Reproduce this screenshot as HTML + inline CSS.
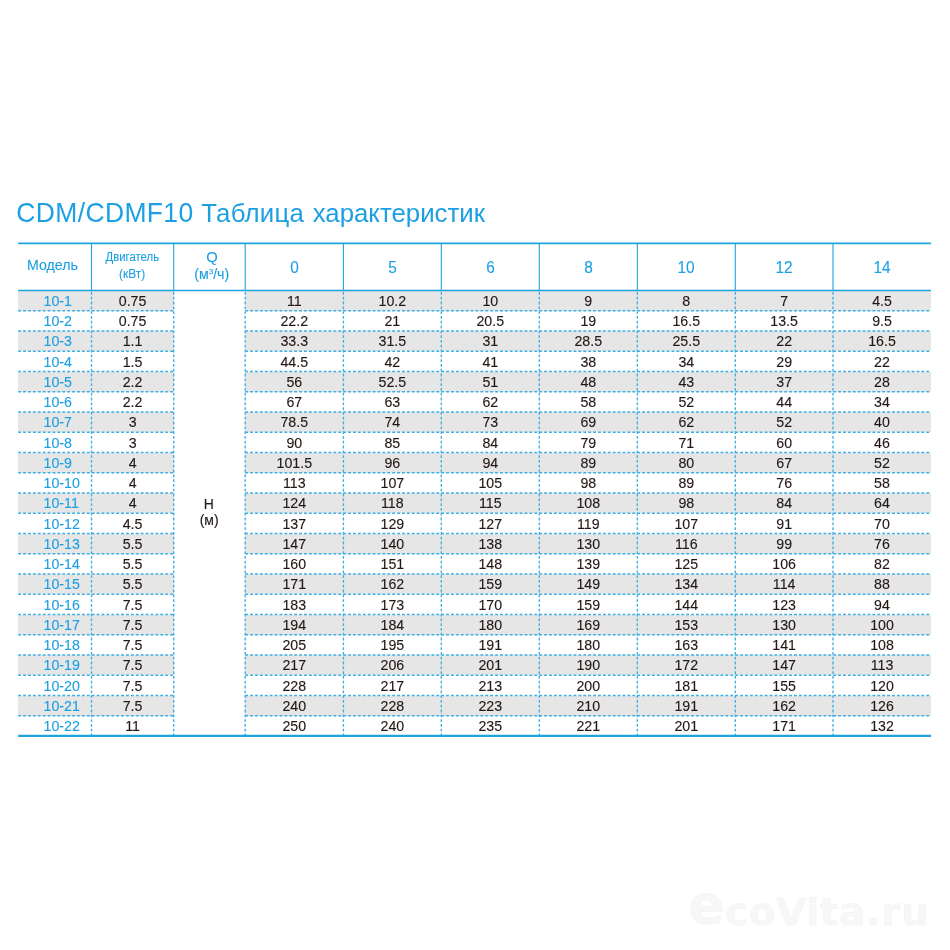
<!DOCTYPE html>
<html><head><meta charset="utf-8"><title>CDM/CDMF10</title>
<style>
html,body{margin:0;padding:0;background:#fff;}
body{width:950px;height:950px;position:relative;overflow:hidden;font-family:"Liberation Sans",sans-serif;}
.t,.m,.h{-webkit-text-stroke:0.12px currentColor;}
.t{position:absolute;text-align:center;white-space:nowrap;font-size:14.2px;line-height:20px;height:20px;color:#231815;}
.m{position:absolute;text-align:left;white-space:nowrap;font-size:14.2px;line-height:20px;height:20px;color:#1c9fe3;left:43.6px;}
.g{position:absolute;background:#e6e6e6;}
.h{position:absolute;text-align:center;color:#1c9fe3;white-space:nowrap;}
.h span{display:inline-block;}
#title{position:absolute;left:16.3px;top:195.6px;font-size:25.8px;line-height:34px;color:#1c9fe3;letter-spacing:0.1px;white-space:nowrap;}
#title b{font-weight:normal;font-size:26.5px;letter-spacing:0.35px;display:inline-block;transform:scaleY(1.045);transform-origin:0 79%;white-space:pre;}
#wm{position:absolute;left:688.3px;top:881.8px;font-family:"DejaVu Sans",sans-serif;font-weight:bold;font-size:39px;line-height:50px;color:#f7f7f7;-webkit-text-stroke:0.5px #f3f3f3;white-space:nowrap;letter-spacing:0.5px;}
#wm span{font-size:53.5px;position:relative;top:-1.5px;}
#wm i{font-style:normal;display:inline-block;transform:scaleY(0.95);transform-origin:0 77%;}
svg{position:absolute;left:0;top:0;}
</style></head><body>
<div id="L" style="position:absolute;left:0;top:0;width:950px;height:950px;will-change:transform">
<div id="title"><b>CDM/CDMF10 </b><span style="letter-spacing:0.25px">Таблица</span><span style="letter-spacing:0;word-spacing:1.4px"> характеристик</span></div>

<div class="g" style="left:18.2px;top:290.50px;width:155.5px;height:20.25px"></div>
<div class="g" style="left:245.2px;top:290.50px;width:685.8px;height:20.25px"></div>
<div class="g" style="left:18.2px;top:331.00px;width:155.5px;height:20.25px"></div>
<div class="g" style="left:245.2px;top:331.00px;width:685.8px;height:20.25px"></div>
<div class="g" style="left:18.2px;top:371.50px;width:155.5px;height:20.25px"></div>
<div class="g" style="left:245.2px;top:371.50px;width:685.8px;height:20.25px"></div>
<div class="g" style="left:18.2px;top:412.00px;width:155.5px;height:20.25px"></div>
<div class="g" style="left:245.2px;top:412.00px;width:685.8px;height:20.25px"></div>
<div class="g" style="left:18.2px;top:452.50px;width:155.5px;height:20.25px"></div>
<div class="g" style="left:245.2px;top:452.50px;width:685.8px;height:20.25px"></div>
<div class="g" style="left:18.2px;top:493.00px;width:155.5px;height:20.25px"></div>
<div class="g" style="left:245.2px;top:493.00px;width:685.8px;height:20.25px"></div>
<div class="g" style="left:18.2px;top:533.50px;width:155.5px;height:20.25px"></div>
<div class="g" style="left:245.2px;top:533.50px;width:685.8px;height:20.25px"></div>
<div class="g" style="left:18.2px;top:574.00px;width:155.5px;height:20.25px"></div>
<div class="g" style="left:245.2px;top:574.00px;width:685.8px;height:20.25px"></div>
<div class="g" style="left:18.2px;top:614.50px;width:155.5px;height:20.25px"></div>
<div class="g" style="left:245.2px;top:614.50px;width:685.8px;height:20.25px"></div>
<div class="g" style="left:18.2px;top:655.00px;width:155.5px;height:20.25px"></div>
<div class="g" style="left:245.2px;top:655.00px;width:685.8px;height:20.25px"></div>
<div class="g" style="left:18.2px;top:695.50px;width:155.5px;height:20.25px"></div>
<div class="g" style="left:245.2px;top:695.50px;width:685.8px;height:20.25px"></div>
<svg width="950" height="950" viewBox="0 0 950 950">
<g stroke="#3dafe3" stroke-width="1.35" fill="none">
<path stroke-dasharray="2.9 2" d="M18.2 310.75H173.7M245.2 310.75H931.0"/>
<path stroke-dasharray="2.9 2" d="M18.2 331.00H173.7M245.2 331.00H931.0"/>
<path stroke-dasharray="2.9 2" d="M18.2 351.25H173.7M245.2 351.25H931.0"/>
<path stroke-dasharray="2.9 2" d="M18.2 371.50H173.7M245.2 371.50H931.0"/>
<path stroke-dasharray="2.9 2" d="M18.2 391.75H173.7M245.2 391.75H931.0"/>
<path stroke-dasharray="2.9 2" d="M18.2 412.00H173.7M245.2 412.00H931.0"/>
<path stroke-dasharray="2.9 2" d="M18.2 432.25H173.7M245.2 432.25H931.0"/>
<path stroke-dasharray="2.9 2" d="M18.2 452.50H173.7M245.2 452.50H931.0"/>
<path stroke-dasharray="2.9 2" d="M18.2 472.75H173.7M245.2 472.75H931.0"/>
<path stroke-dasharray="2.9 2" d="M18.2 493.00H173.7M245.2 493.00H931.0"/>
<path stroke-dasharray="2.9 2" d="M18.2 513.25H173.7M245.2 513.25H931.0"/>
<path stroke-dasharray="2.9 2" d="M18.2 533.50H173.7M245.2 533.50H931.0"/>
<path stroke-dasharray="2.9 2" d="M18.2 553.75H173.7M245.2 553.75H931.0"/>
<path stroke-dasharray="2.9 2" d="M18.2 574.00H173.7M245.2 574.00H931.0"/>
<path stroke-dasharray="2.9 2" d="M18.2 594.25H173.7M245.2 594.25H931.0"/>
<path stroke-dasharray="2.9 2" d="M18.2 614.50H173.7M245.2 614.50H931.0"/>
<path stroke-dasharray="2.9 2" d="M18.2 634.75H173.7M245.2 634.75H931.0"/>
<path stroke-dasharray="2.9 2" d="M18.2 655.00H173.7M245.2 655.00H931.0"/>
<path stroke-dasharray="2.9 2" d="M18.2 675.25H173.7M245.2 675.25H931.0"/>
<path stroke-dasharray="2.9 2" d="M18.2 695.50H173.7M245.2 695.50H931.0"/>
<path stroke-dasharray="2.9 2" d="M18.2 715.75H173.7M245.2 715.75H931.0"/>
<path stroke-dasharray="2.8 2" d="M91.5 292.0V734.9"/>
<path stroke-dasharray="2.8 2" d="M173.7 292.0V734.9"/>
<path stroke-dasharray="2.8 2" d="M245.2 292.0V734.9"/>
<path stroke-dasharray="2.8 2" d="M343.4 292.0V734.9"/>
<path stroke-dasharray="2.8 2" d="M441.3 292.0V734.9"/>
<path stroke-dasharray="2.8 2" d="M539.3 292.0V734.9"/>
<path stroke-dasharray="2.8 2" d="M637.3 292.0V734.9"/>
<path stroke-dasharray="2.8 2" d="M735.3 292.0V734.9"/>
<path stroke-dasharray="2.8 2" d="M833.0 292.0V734.9"/>
</g>
<g stroke="#1fa3dd" fill="none">
<path stroke-width="1.1" d="M91.5 243.4V290.5"/>
<path stroke-width="1.1" d="M173.7 243.4V290.5"/>
<path stroke-width="1.1" d="M245.2 243.4V290.5"/>
<path stroke-width="1.1" d="M343.4 243.4V290.5"/>
<path stroke-width="1.1" d="M441.3 243.4V290.5"/>
<path stroke-width="1.1" d="M539.3 243.4V290.5"/>
<path stroke-width="1.1" d="M637.3 243.4V290.5"/>
<path stroke-width="1.1" d="M735.3 243.4V290.5"/>
<path stroke-width="1.1" d="M833.0 243.4V290.5"/>
<path stroke-width="1.6" d="M18.2 243.4H931.0"/>
<path stroke-width="1.3" d="M18.2 290.5H931.0"/>
<path stroke-width="2.2" d="M18.2 735.9H931.0"/>
</g></svg>
<div class="h" style="left:-7.6px;width:120px;top:257.45px;font-size:14.2px;line-height:17.2px;color:#1c9fe3">Модель</div>
<div class="h" style="left:72.3px;width:120px;top:248.6px;font-size:13.7px;line-height:16.7px;color:#1c9fe3"><span style="transform:scaleX(0.83)">Двигатель</span></div>
<div class="h" style="left:72.2px;width:120px;top:265.8px;font-size:13.7px;line-height:16.7px;color:#1c9fe3"><span style="transform:scaleX(0.87)">(кВт)</span></div>
<div class="h" style="left:151.9px;width:120px;top:248.8px;font-size:14.8px;line-height:17.8px;color:#1c9fe3">Q</div>
<div class="h" style="left:151.7px;width:120px;top:265.9px;font-size:14.2px;line-height:17.2px;color:#1c9fe3">(м<span style="font-size:8px;position:relative;top:-5px">3</span>/ч)</div>
<div class="h" style="left:234.3px;width:120px;top:257.7px;font-size:16.4px;line-height:19.4px;color:#1c9fe3"><span style="transform:scaleX(0.94)">0</span></div>
<div class="h" style="left:332.4px;width:120px;top:257.7px;font-size:16.4px;line-height:19.4px;color:#1c9fe3"><span style="transform:scaleX(0.94)">5</span></div>
<div class="h" style="left:430.3px;width:120px;top:257.7px;font-size:16.4px;line-height:19.4px;color:#1c9fe3"><span style="transform:scaleX(0.94)">6</span></div>
<div class="h" style="left:528.3px;width:120px;top:257.7px;font-size:16.4px;line-height:19.4px;color:#1c9fe3"><span style="transform:scaleX(0.94)">8</span></div>
<div class="h" style="left:626.3px;width:120px;top:257.7px;font-size:16.4px;line-height:19.4px;color:#1c9fe3"><span style="transform:scaleX(0.94)">10</span></div>
<div class="h" style="left:724.1px;width:120px;top:257.7px;font-size:16.4px;line-height:19.4px;color:#1c9fe3"><span style="transform:scaleX(0.94)">12</span></div>
<div class="h" style="left:822.0px;width:120px;top:257.7px;font-size:16.4px;line-height:19.4px;color:#1c9fe3"><span style="transform:scaleX(0.94)">14</span></div>
<div class="h" style="left:148.8px;width:120px;top:496px;font-size:14px;line-height:17px;color:#231815">H</div>
<div class="h" style="left:149.2px;width:120px;top:512.4px;font-size:14px;line-height:17px;color:#231815">(м)</div>
<div class="m" style="top:290.93px">10-1</div>
<div class="t" style="left:91.5px;width:82.2px;top:290.93px">0.75</div>
<div class="t" style="left:245.2px;width:98.2px;top:290.93px">11</div>
<div class="t" style="left:343.4px;width:97.9px;top:290.93px">10.2</div>
<div class="t" style="left:441.3px;width:98.0px;top:290.93px">10</div>
<div class="t" style="left:539.3px;width:98.0px;top:290.93px">9</div>
<div class="t" style="left:637.3px;width:98.0px;top:290.93px">8</div>
<div class="t" style="left:735.3px;width:97.7px;top:290.93px">7</div>
<div class="t" style="left:833.0px;width:98.0px;top:290.93px">4.5</div>
<div class="m" style="top:311.18px">10-2</div>
<div class="t" style="left:91.5px;width:82.2px;top:311.18px">0.75</div>
<div class="t" style="left:245.2px;width:98.2px;top:311.18px">22.2</div>
<div class="t" style="left:343.4px;width:97.9px;top:311.18px">21</div>
<div class="t" style="left:441.3px;width:98.0px;top:311.18px">20.5</div>
<div class="t" style="left:539.3px;width:98.0px;top:311.18px">19</div>
<div class="t" style="left:637.3px;width:98.0px;top:311.18px">16.5</div>
<div class="t" style="left:735.3px;width:97.7px;top:311.18px">13.5</div>
<div class="t" style="left:833.0px;width:98.0px;top:311.18px">9.5</div>
<div class="m" style="top:331.43px">10-3</div>
<div class="t" style="left:91.5px;width:82.2px;top:331.43px">1.1</div>
<div class="t" style="left:245.2px;width:98.2px;top:331.43px">33.3</div>
<div class="t" style="left:343.4px;width:97.9px;top:331.43px">31.5</div>
<div class="t" style="left:441.3px;width:98.0px;top:331.43px">31</div>
<div class="t" style="left:539.3px;width:98.0px;top:331.43px">28.5</div>
<div class="t" style="left:637.3px;width:98.0px;top:331.43px">25.5</div>
<div class="t" style="left:735.3px;width:97.7px;top:331.43px">22</div>
<div class="t" style="left:833.0px;width:98.0px;top:331.43px">16.5</div>
<div class="m" style="top:351.68px">10-4</div>
<div class="t" style="left:91.5px;width:82.2px;top:351.68px">1.5</div>
<div class="t" style="left:245.2px;width:98.2px;top:351.68px">44.5</div>
<div class="t" style="left:343.4px;width:97.9px;top:351.68px">42</div>
<div class="t" style="left:441.3px;width:98.0px;top:351.68px">41</div>
<div class="t" style="left:539.3px;width:98.0px;top:351.68px">38</div>
<div class="t" style="left:637.3px;width:98.0px;top:351.68px">34</div>
<div class="t" style="left:735.3px;width:97.7px;top:351.68px">29</div>
<div class="t" style="left:833.0px;width:98.0px;top:351.68px">22</div>
<div class="m" style="top:371.93px">10-5</div>
<div class="t" style="left:91.5px;width:82.2px;top:371.93px">2.2</div>
<div class="t" style="left:245.2px;width:98.2px;top:371.93px">56</div>
<div class="t" style="left:343.4px;width:97.9px;top:371.93px">52.5</div>
<div class="t" style="left:441.3px;width:98.0px;top:371.93px">51</div>
<div class="t" style="left:539.3px;width:98.0px;top:371.93px">48</div>
<div class="t" style="left:637.3px;width:98.0px;top:371.93px">43</div>
<div class="t" style="left:735.3px;width:97.7px;top:371.93px">37</div>
<div class="t" style="left:833.0px;width:98.0px;top:371.93px">28</div>
<div class="m" style="top:392.18px">10-6</div>
<div class="t" style="left:91.5px;width:82.2px;top:392.18px">2.2</div>
<div class="t" style="left:245.2px;width:98.2px;top:392.18px">67</div>
<div class="t" style="left:343.4px;width:97.9px;top:392.18px">63</div>
<div class="t" style="left:441.3px;width:98.0px;top:392.18px">62</div>
<div class="t" style="left:539.3px;width:98.0px;top:392.18px">58</div>
<div class="t" style="left:637.3px;width:98.0px;top:392.18px">52</div>
<div class="t" style="left:735.3px;width:97.7px;top:392.18px">44</div>
<div class="t" style="left:833.0px;width:98.0px;top:392.18px">34</div>
<div class="m" style="top:412.43px">10-7</div>
<div class="t" style="left:91.5px;width:82.2px;top:412.43px">3</div>
<div class="t" style="left:245.2px;width:98.2px;top:412.43px">78.5</div>
<div class="t" style="left:343.4px;width:97.9px;top:412.43px">74</div>
<div class="t" style="left:441.3px;width:98.0px;top:412.43px">73</div>
<div class="t" style="left:539.3px;width:98.0px;top:412.43px">69</div>
<div class="t" style="left:637.3px;width:98.0px;top:412.43px">62</div>
<div class="t" style="left:735.3px;width:97.7px;top:412.43px">52</div>
<div class="t" style="left:833.0px;width:98.0px;top:412.43px">40</div>
<div class="m" style="top:432.68px">10-8</div>
<div class="t" style="left:91.5px;width:82.2px;top:432.68px">3</div>
<div class="t" style="left:245.2px;width:98.2px;top:432.68px">90</div>
<div class="t" style="left:343.4px;width:97.9px;top:432.68px">85</div>
<div class="t" style="left:441.3px;width:98.0px;top:432.68px">84</div>
<div class="t" style="left:539.3px;width:98.0px;top:432.68px">79</div>
<div class="t" style="left:637.3px;width:98.0px;top:432.68px">71</div>
<div class="t" style="left:735.3px;width:97.7px;top:432.68px">60</div>
<div class="t" style="left:833.0px;width:98.0px;top:432.68px">46</div>
<div class="m" style="top:452.93px">10-9</div>
<div class="t" style="left:91.5px;width:82.2px;top:452.93px">4</div>
<div class="t" style="left:245.2px;width:98.2px;top:452.93px">101.5</div>
<div class="t" style="left:343.4px;width:97.9px;top:452.93px">96</div>
<div class="t" style="left:441.3px;width:98.0px;top:452.93px">94</div>
<div class="t" style="left:539.3px;width:98.0px;top:452.93px">89</div>
<div class="t" style="left:637.3px;width:98.0px;top:452.93px">80</div>
<div class="t" style="left:735.3px;width:97.7px;top:452.93px">67</div>
<div class="t" style="left:833.0px;width:98.0px;top:452.93px">52</div>
<div class="m" style="top:473.18px">10-10</div>
<div class="t" style="left:91.5px;width:82.2px;top:473.18px">4</div>
<div class="t" style="left:245.2px;width:98.2px;top:473.18px">113</div>
<div class="t" style="left:343.4px;width:97.9px;top:473.18px">107</div>
<div class="t" style="left:441.3px;width:98.0px;top:473.18px">105</div>
<div class="t" style="left:539.3px;width:98.0px;top:473.18px">98</div>
<div class="t" style="left:637.3px;width:98.0px;top:473.18px">89</div>
<div class="t" style="left:735.3px;width:97.7px;top:473.18px">76</div>
<div class="t" style="left:833.0px;width:98.0px;top:473.18px">58</div>
<div class="m" style="top:493.43px">10-11</div>
<div class="t" style="left:91.5px;width:82.2px;top:493.43px">4</div>
<div class="t" style="left:245.2px;width:98.2px;top:493.43px">124</div>
<div class="t" style="left:343.4px;width:97.9px;top:493.43px">118</div>
<div class="t" style="left:441.3px;width:98.0px;top:493.43px">115</div>
<div class="t" style="left:539.3px;width:98.0px;top:493.43px">108</div>
<div class="t" style="left:637.3px;width:98.0px;top:493.43px">98</div>
<div class="t" style="left:735.3px;width:97.7px;top:493.43px">84</div>
<div class="t" style="left:833.0px;width:98.0px;top:493.43px">64</div>
<div class="m" style="top:513.67px">10-12</div>
<div class="t" style="left:91.5px;width:82.2px;top:513.67px">4.5</div>
<div class="t" style="left:245.2px;width:98.2px;top:513.67px">137</div>
<div class="t" style="left:343.4px;width:97.9px;top:513.67px">129</div>
<div class="t" style="left:441.3px;width:98.0px;top:513.67px">127</div>
<div class="t" style="left:539.3px;width:98.0px;top:513.67px">119</div>
<div class="t" style="left:637.3px;width:98.0px;top:513.67px">107</div>
<div class="t" style="left:735.3px;width:97.7px;top:513.67px">91</div>
<div class="t" style="left:833.0px;width:98.0px;top:513.67px">70</div>
<div class="m" style="top:533.92px">10-13</div>
<div class="t" style="left:91.5px;width:82.2px;top:533.92px">5.5</div>
<div class="t" style="left:245.2px;width:98.2px;top:533.92px">147</div>
<div class="t" style="left:343.4px;width:97.9px;top:533.92px">140</div>
<div class="t" style="left:441.3px;width:98.0px;top:533.92px">138</div>
<div class="t" style="left:539.3px;width:98.0px;top:533.92px">130</div>
<div class="t" style="left:637.3px;width:98.0px;top:533.92px">116</div>
<div class="t" style="left:735.3px;width:97.7px;top:533.92px">99</div>
<div class="t" style="left:833.0px;width:98.0px;top:533.92px">76</div>
<div class="m" style="top:554.17px">10-14</div>
<div class="t" style="left:91.5px;width:82.2px;top:554.17px">5.5</div>
<div class="t" style="left:245.2px;width:98.2px;top:554.17px">160</div>
<div class="t" style="left:343.4px;width:97.9px;top:554.17px">151</div>
<div class="t" style="left:441.3px;width:98.0px;top:554.17px">148</div>
<div class="t" style="left:539.3px;width:98.0px;top:554.17px">139</div>
<div class="t" style="left:637.3px;width:98.0px;top:554.17px">125</div>
<div class="t" style="left:735.3px;width:97.7px;top:554.17px">106</div>
<div class="t" style="left:833.0px;width:98.0px;top:554.17px">82</div>
<div class="m" style="top:574.42px">10-15</div>
<div class="t" style="left:91.5px;width:82.2px;top:574.42px">5.5</div>
<div class="t" style="left:245.2px;width:98.2px;top:574.42px">171</div>
<div class="t" style="left:343.4px;width:97.9px;top:574.42px">162</div>
<div class="t" style="left:441.3px;width:98.0px;top:574.42px">159</div>
<div class="t" style="left:539.3px;width:98.0px;top:574.42px">149</div>
<div class="t" style="left:637.3px;width:98.0px;top:574.42px">134</div>
<div class="t" style="left:735.3px;width:97.7px;top:574.42px">114</div>
<div class="t" style="left:833.0px;width:98.0px;top:574.42px">88</div>
<div class="m" style="top:594.67px">10-16</div>
<div class="t" style="left:91.5px;width:82.2px;top:594.67px">7.5</div>
<div class="t" style="left:245.2px;width:98.2px;top:594.67px">183</div>
<div class="t" style="left:343.4px;width:97.9px;top:594.67px">173</div>
<div class="t" style="left:441.3px;width:98.0px;top:594.67px">170</div>
<div class="t" style="left:539.3px;width:98.0px;top:594.67px">159</div>
<div class="t" style="left:637.3px;width:98.0px;top:594.67px">144</div>
<div class="t" style="left:735.3px;width:97.7px;top:594.67px">123</div>
<div class="t" style="left:833.0px;width:98.0px;top:594.67px">94</div>
<div class="m" style="top:614.92px">10-17</div>
<div class="t" style="left:91.5px;width:82.2px;top:614.92px">7.5</div>
<div class="t" style="left:245.2px;width:98.2px;top:614.92px">194</div>
<div class="t" style="left:343.4px;width:97.9px;top:614.92px">184</div>
<div class="t" style="left:441.3px;width:98.0px;top:614.92px">180</div>
<div class="t" style="left:539.3px;width:98.0px;top:614.92px">169</div>
<div class="t" style="left:637.3px;width:98.0px;top:614.92px">153</div>
<div class="t" style="left:735.3px;width:97.7px;top:614.92px">130</div>
<div class="t" style="left:833.0px;width:98.0px;top:614.92px">100</div>
<div class="m" style="top:635.17px">10-18</div>
<div class="t" style="left:91.5px;width:82.2px;top:635.17px">7.5</div>
<div class="t" style="left:245.2px;width:98.2px;top:635.17px">205</div>
<div class="t" style="left:343.4px;width:97.9px;top:635.17px">195</div>
<div class="t" style="left:441.3px;width:98.0px;top:635.17px">191</div>
<div class="t" style="left:539.3px;width:98.0px;top:635.17px">180</div>
<div class="t" style="left:637.3px;width:98.0px;top:635.17px">163</div>
<div class="t" style="left:735.3px;width:97.7px;top:635.17px">141</div>
<div class="t" style="left:833.0px;width:98.0px;top:635.17px">108</div>
<div class="m" style="top:655.42px">10-19</div>
<div class="t" style="left:91.5px;width:82.2px;top:655.42px">7.5</div>
<div class="t" style="left:245.2px;width:98.2px;top:655.42px">217</div>
<div class="t" style="left:343.4px;width:97.9px;top:655.42px">206</div>
<div class="t" style="left:441.3px;width:98.0px;top:655.42px">201</div>
<div class="t" style="left:539.3px;width:98.0px;top:655.42px">190</div>
<div class="t" style="left:637.3px;width:98.0px;top:655.42px">172</div>
<div class="t" style="left:735.3px;width:97.7px;top:655.42px">147</div>
<div class="t" style="left:833.0px;width:98.0px;top:655.42px">113</div>
<div class="m" style="top:675.67px">10-20</div>
<div class="t" style="left:91.5px;width:82.2px;top:675.67px">7.5</div>
<div class="t" style="left:245.2px;width:98.2px;top:675.67px">228</div>
<div class="t" style="left:343.4px;width:97.9px;top:675.67px">217</div>
<div class="t" style="left:441.3px;width:98.0px;top:675.67px">213</div>
<div class="t" style="left:539.3px;width:98.0px;top:675.67px">200</div>
<div class="t" style="left:637.3px;width:98.0px;top:675.67px">181</div>
<div class="t" style="left:735.3px;width:97.7px;top:675.67px">155</div>
<div class="t" style="left:833.0px;width:98.0px;top:675.67px">120</div>
<div class="m" style="top:695.92px">10-21</div>
<div class="t" style="left:91.5px;width:82.2px;top:695.92px">7.5</div>
<div class="t" style="left:245.2px;width:98.2px;top:695.92px">240</div>
<div class="t" style="left:343.4px;width:97.9px;top:695.92px">228</div>
<div class="t" style="left:441.3px;width:98.0px;top:695.92px">223</div>
<div class="t" style="left:539.3px;width:98.0px;top:695.92px">210</div>
<div class="t" style="left:637.3px;width:98.0px;top:695.92px">191</div>
<div class="t" style="left:735.3px;width:97.7px;top:695.92px">162</div>
<div class="t" style="left:833.0px;width:98.0px;top:695.92px">126</div>
<div class="m" style="top:716.12px">10-22</div>
<div class="t" style="left:91.5px;width:82.2px;top:716.12px">11</div>
<div class="t" style="left:245.2px;width:98.2px;top:716.12px">250</div>
<div class="t" style="left:343.4px;width:97.9px;top:716.12px">240</div>
<div class="t" style="left:441.3px;width:98.0px;top:716.12px">235</div>
<div class="t" style="left:539.3px;width:98.0px;top:716.12px">221</div>
<div class="t" style="left:637.3px;width:98.0px;top:716.12px">201</div>
<div class="t" style="left:735.3px;width:97.7px;top:716.12px">171</div>
<div class="t" style="left:833.0px;width:98.0px;top:716.12px">132</div>
<div id="wm"><span>e</span><i>coVita.ru</i></div>
</div></body></html>
